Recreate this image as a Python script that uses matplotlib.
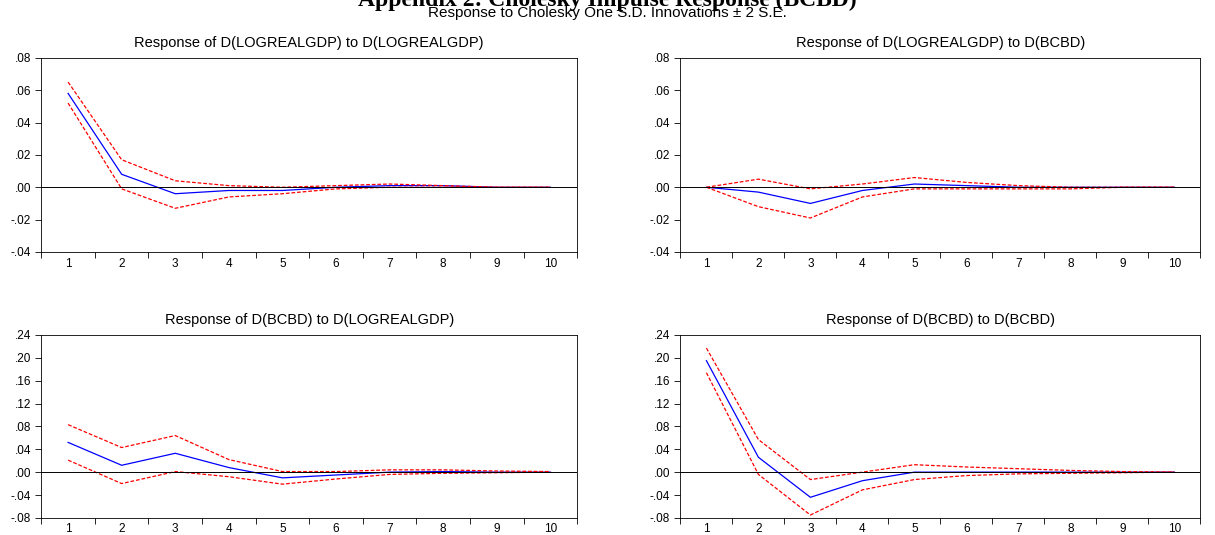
import matplotlib.pyplot as plt
import numpy as np

plt.rcParams['font.family'] = ['Liberation Sans', 'DejaVu Sans']

periods = np.arange(1, 11)
# response of D(LOGREALGDP) to D(LOGREALGDP)
gg = [0.058, 0.008, -0.004, -0.002, -0.002, 0.000, 0.001, 0.001, 0.000, 0.000]
gg_up = [0.065, 0.017, 0.004, 0.001, 0.000, 0.001, 0.002, 0.001, 0.000, 0.000]
gg_lo = [0.052, -0.001, -0.013, -0.006, -0.004, -0.001, 0.000, 0.000, 0.000, 0.000]
# response of D(LOGREALGDP) to D(BCBD)
gb = [0.000, -0.003, -0.010, -0.002, 0.002, 0.001, 0.000, 0.000, 0.000, 0.000]
gb_up = [0.000, 0.005, -0.001, 0.002, 0.006, 0.003, 0.001, 0.000, 0.000, 0.000]
gb_lo = [0.000, -0.012, -0.019, -0.006, -0.001, -0.001, -0.001, -0.001, 0.000, 0.000]
# response of D(BCBD) to D(LOGREALGDP)
bg = [0.052, 0.012, 0.033, 0.008, -0.010, -0.005, 0.000, 0.001, 0.000, 0.000]
bg_up = [0.083, 0.043, 0.064, 0.022, 0.001, 0.001, 0.004, 0.004, 0.002, 0.001]
bg_lo = [0.021, -0.020, 0.001, -0.008, -0.021, -0.012, -0.004, -0.002, -0.001, 0.000]
# response of D(BCBD) to D(BCBD)
bb = [0.195, 0.026, -0.044, -0.015, 0.000, 0.000, 0.000, 0.000, 0.000, 0.000]
bb_up = [0.217, 0.057, -0.013, 0.000, 0.013, 0.009, 0.006, 0.003, 0.001, 0.000]
bb_lo = [0.174, -0.004, -0.075, -0.031, -0.013, -0.006, -0.003, -0.002, -0.001, 0.000]

panels = [
    ('Response of D(LOGREALGDP) to D(LOGREALGDP)', gg, gg_up, gg_lo, (-0.04, 0.08), 0.02, [0.034, 0.529, 0.441, 0.363]),
    ('Response of D(LOGREALGDP) to D(BCBD)', gb, gb_up, gb_lo, (-0.04, 0.08), 0.02, [0.56, 0.529, 0.428, 0.363]),
    ('Response of D(BCBD) to D(LOGREALGDP)', bg, bg_up, bg_lo, (-0.08, 0.24), 0.04, [0.034, 0.032, 0.441, 0.342]),
    ('Response of D(BCBD) to D(BCBD)', bb, bb_up, bb_lo, (-0.08, 0.24), 0.04, [0.56, 0.032, 0.428, 0.342]),
]

def fmt(v):
    s = '%.2f' % v
    if s.startswith('0'):
        s = s[1:]
    elif s.startswith('-0'):
        s = '-' + s[2:]
    return s

fig = plt.figure(figsize=(12.15, 5.35), dpi=100)
fig.text(0.5, 1.0, 'Appendix 2: Cholesky Impulse Response (BCBD)', ha='center', va='center',
         fontsize=17, fontweight='bold', family='Liberation Serif')
fig.text(0.5, 0.975, 'Response to Cholesky One S.D. Innovations \u00b1 2 S.E.', ha='center', va='center', fontsize=11)

for title, mid, up, lo, ylim, step, pos in panels:
    ax = fig.add_axes(pos)
    ax.plot(periods, mid, color='blue', lw=0.9)
    ax.plot(periods, up, color='red', lw=0.9, ls=(0, (3, 1.5)))
    ax.plot(periods, lo, color='red', lw=0.9, ls=(0, (3, 1.5)))
    ax.axhline(0, color='black', lw=0.7)
    ax.set_xlim(0.5, 10.5)
    ax.set_ylim(*ylim)
    yt = np.arange(ylim[0], ylim[1] + 1e-9, step)
    ax.set_yticks(yt)
    ax.set_yticklabels([fmt(v) for v in yt], fontsize=8.5)
    ax.set_xticks(np.arange(0.5, 11, 1))
    ax.set_xticklabels([])
    ax.set_xticks(periods, minor=True)
    ax.set_xticklabels([str(p) for p in periods], minor=True, fontsize=8.5)
    ax.tick_params(axis='x', which='minor', length=0, pad=4)
    ax.tick_params(axis='both', which='major', length=4, width=0.6)
    ax.set_title(title, fontsize=10.5, pad=8)
    for s in ax.spines.values():
        s.set_linewidth(0.6)

plt.savefig('out.png', dpi=100)
